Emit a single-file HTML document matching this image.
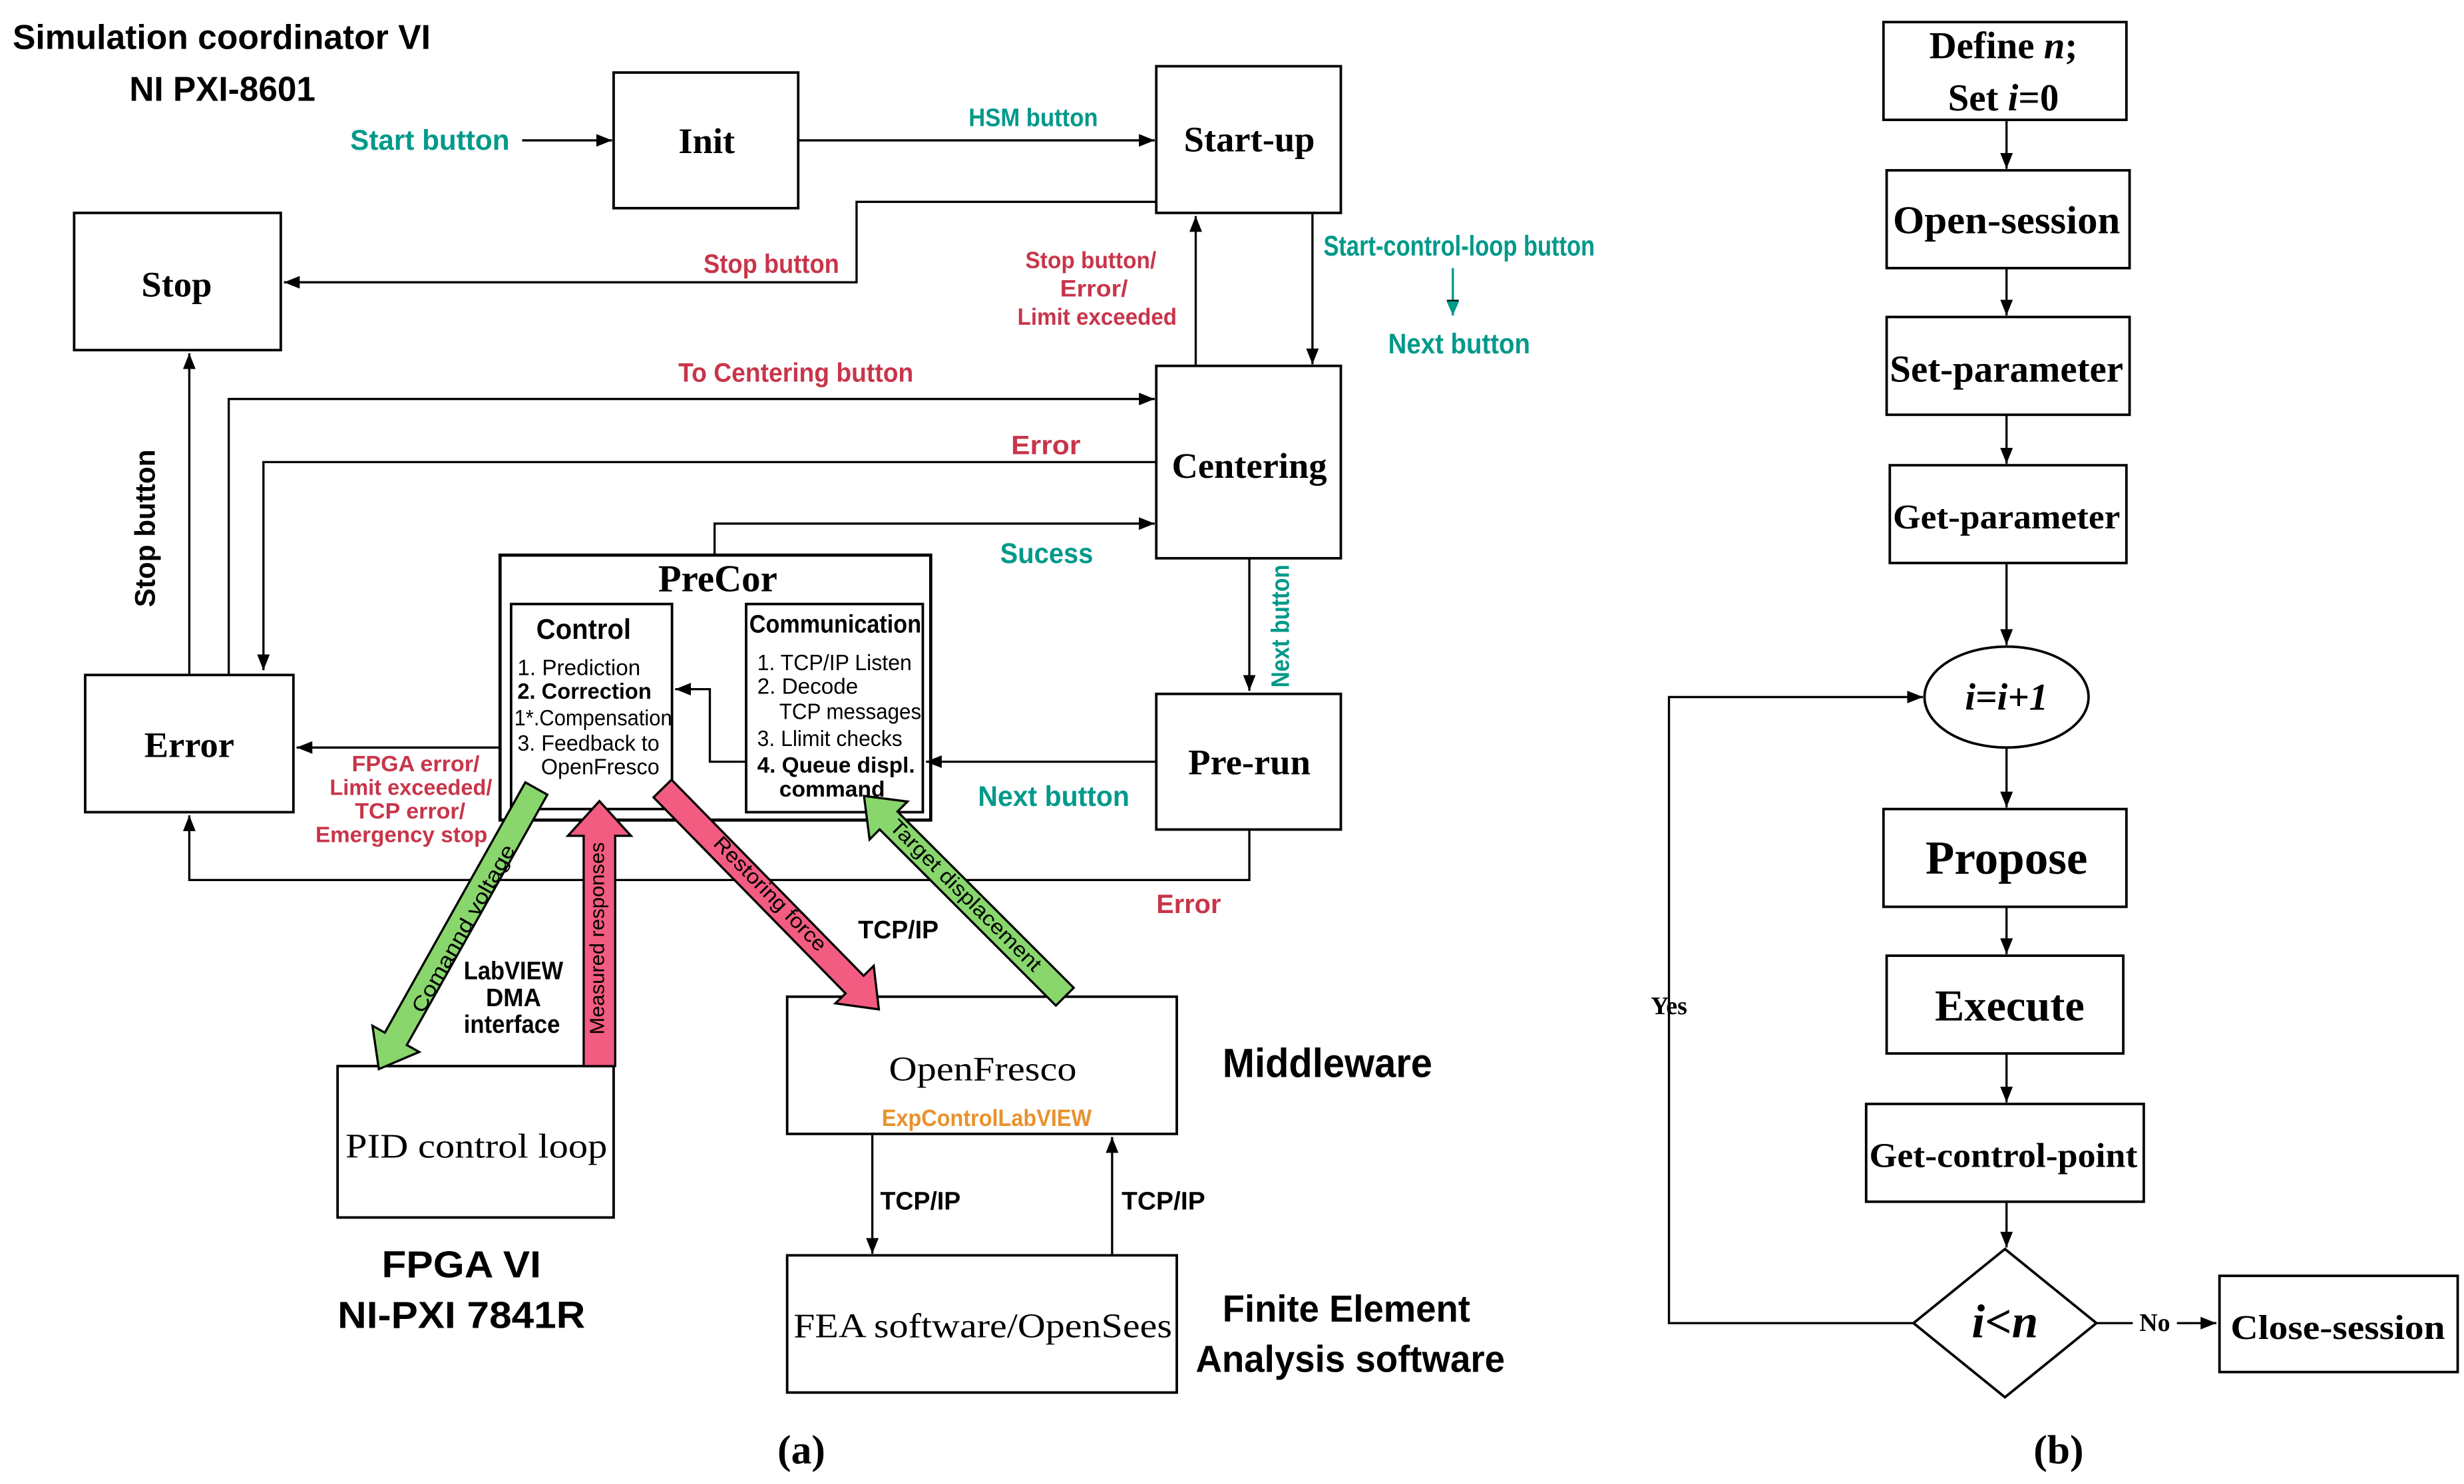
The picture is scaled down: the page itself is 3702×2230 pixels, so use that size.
<!DOCTYPE html>
<html><head><meta charset="utf-8"><style>
html,body{margin:0;padding:0;background:#fff}
svg{display:block}
.s{font-family:"Liberation Sans Narrow","Liberation Sans",sans-serif}
.b{font-weight:bold}
.sf{font-family:"Liberation Serif",serif}
.t{fill:#00998a}
.r{fill:#c8354a}
</style></head><body>
<svg width="3702" height="2230" viewBox="0 0 1562 941" preserveAspectRatio="none" xmlns="http://www.w3.org/2000/svg">
<defs>
<marker id="a" markerWidth="10" markerHeight="8" refX="10" refY="4" orient="auto" markerUnits="userSpaceOnUse"><path d="M0,0 L10,4 L0,8 Z" fill="#000"/></marker>
</defs>
<rect width="1562" height="941" fill="#fff"/>
<g fill="none" stroke="#000" stroke-width="1.6">
<rect x="389" y="46" width="117" height="86"/>
<rect x="733" y="42" width="117" height="93"/>
<rect x="47" y="135" width="131" height="87"/>
<rect x="733" y="232" width="117" height="122"/>
<rect x="54" y="428" width="132" height="87"/>
<rect x="317" y="352" width="273" height="168" stroke-width="2"/>
<rect x="324" y="383" width="102" height="130"/>
<rect x="473" y="383" width="112" height="132"/>
<rect x="733" y="440" width="117" height="86"/>
<rect x="214" y="676" width="175" height="96"/>
<rect x="499" y="632" width="247" height="87"/>
<rect x="499" y="796" width="247" height="87"/>
</g>
<g fill="none" stroke="#000" stroke-width="1.4" marker-end="url(#a)">
<path d="M331,89 H388"/>
<path d="M506,89 H732"/>
<path d="M733,128 H543 V179 H180"/>
<path d="M832,135 V231"/>
<path d="M758,232 V137"/>
<path d="M921,170 V200" stroke="#00998a"/>
<path d="M145,428 V253 H732"/>
<path d="M733,293 H167 V425"/>
<path d="M453,352 V332 H732"/>
<path d="M120,428 V224"/>
<path d="M473,483 H450 V437 H428"/>
<path d="M733,483 H587"/>
<path d="M792,354 V438"/>
<path d="M317,474 H188"/>
<path d="M792,526 V558 H120 V517"/>
<path d="M553,719 V795"/>
<path d="M705,796 V721"/>
</g>
<path d="M921,200 l-4,-9 h8 z" fill="#00998a"/>
<g stroke="#000" stroke-width="1.4">
<g transform="translate(340,500) rotate(119.3)"><polygon points="0,-8 182,-8 182,-17 204,0 182,17 182,8 0,8" fill="#88d66c"/></g>
<g transform="translate(380,676) rotate(-90)"><polygon points="0,-10 146,-10 146,-20 168,0 146,20 146,10 0,10" fill="#f25c80"/></g>
<g transform="translate(420,500) rotate(45.6)"><polygon points="0,-8 174,-8 174,-17 196,0 174,17 174,8 0,8" fill="#f25c80"/></g>
<g transform="translate(675,632) rotate(-135)"><polygon points="0,-8 158,-8 158,-17 180,0 158,17 158,8 0,8" fill="#88d66c"/></g>
</g>
<g class="s" font-size="13" text-anchor="middle">
<text transform="translate(294,589) rotate(-60.7)" dy="4" textLength="120" lengthAdjust="spacingAndGlyphs">Comannd voltage</text>
<text transform="translate(379,595) rotate(-90)" dy="4" textLength="122" lengthAdjust="spacingAndGlyphs">Measured responses</text>
<text transform="translate(488,567) rotate(45.6)" dy="4" textLength="96" lengthAdjust="spacingAndGlyphs">Restoring force</text>
<text transform="translate(612,568) rotate(45)" dy="4" textLength="130" lengthAdjust="spacingAndGlyphs">Target displacement</text>
</g>
<g class="s b" font-size="22" lengthAdjust="spacingAndGlyphs">
<text x="8" y="31" textLength="265" lengthAdjust="spacingAndGlyphs">Simulation coordinator VI</text>
<text x="82" y="64" textLength="118" lengthAdjust="spacingAndGlyphs">NI PXI-8601</text>
</g>
<g class="s b t" font-size="18">
<text x="222" y="95" textLength="101" lengthAdjust="spacingAndGlyphs">Start button</text>
<text x="614" y="80" font-size="16" textLength="82" lengthAdjust="spacingAndGlyphs">HSM button</text>
<text x="839" y="162" textLength="172" lengthAdjust="spacingAndGlyphs">Start-control-loop button</text>
<text x="880" y="224" textLength="90" lengthAdjust="spacingAndGlyphs">Next button</text>
<text x="634" y="357" textLength="59" lengthAdjust="spacingAndGlyphs">Sucess</text>
<text x="620" y="511" textLength="96" lengthAdjust="spacingAndGlyphs">Next button</text>
<text transform="translate(817,436) rotate(-90)" font-size="16" textLength="78" lengthAdjust="spacingAndGlyphs">Next button</text>
</g>
<g class="s b r" font-size="17">
<text x="446" y="173" textLength="86" lengthAdjust="spacingAndGlyphs">Stop button</text>
<text x="650" y="170" font-size="15" textLength="83" lengthAdjust="spacingAndGlyphs">Stop button/</text>
<text x="672" y="188" font-size="15" textLength="43" lengthAdjust="spacingAndGlyphs">Error/</text>
<text x="645" y="206" font-size="15" textLength="101" lengthAdjust="spacingAndGlyphs">Limit exceeded</text>
<text x="430" y="242" textLength="149" lengthAdjust="spacingAndGlyphs">To Centering button</text>
<text x="641" y="288" textLength="44" lengthAdjust="spacingAndGlyphs">Error</text>
<text x="733" y="579" textLength="41" lengthAdjust="spacingAndGlyphs">Error</text>
<text x="223" y="489" font-size="14" textLength="81" lengthAdjust="spacingAndGlyphs">FPGA error/</text>
<text x="209" y="504" font-size="14" textLength="103" lengthAdjust="spacingAndGlyphs">Limit exceeded/</text>
<text x="225" y="519" font-size="14" textLength="70" lengthAdjust="spacingAndGlyphs">TCP error/</text>
<text x="200" y="534" font-size="14" textLength="109" lengthAdjust="spacingAndGlyphs">Emergency stop</text>
</g>
<text class="s b" font-size="18" transform="translate(98,385) rotate(-90)" textLength="100" lengthAdjust="spacingAndGlyphs">Stop button</text>
<g class="sf b" font-size="23" text-anchor="middle">
<text x="448" y="97">Init</text>
<text x="792" y="96">Start-up</text>
<text x="112" y="188">Stop</text>
<text x="792" y="303">Centering</text>
<text x="120" y="480">Error</text>
<text x="792" y="491">Pre-run</text>
<text x="455" y="375" font-size="24">PreCor</text>
</g>
<g class="s" font-size="14">
<text x="340" y="405" class="b" font-size="18" textLength="60" lengthAdjust="spacingAndGlyphs">Control</text>
<text x="328" y="428" textLength="78" lengthAdjust="spacingAndGlyphs">1. Prediction</text>
<text x="328" y="443" class="b" textLength="85" lengthAdjust="spacingAndGlyphs">2. Correction</text>
<text x="326" y="460" textLength="100" lengthAdjust="spacingAndGlyphs">1*.Compensation</text>
<text x="328" y="476" textLength="90" lengthAdjust="spacingAndGlyphs">3. Feedback to</text>
<text x="343" y="491" textLength="75" lengthAdjust="spacingAndGlyphs">OpenFresco</text>
<text x="475" y="401" class="b" font-size="16" textLength="109" lengthAdjust="spacingAndGlyphs">Communication</text>
<text x="480" y="425" textLength="98" lengthAdjust="spacingAndGlyphs">1. TCP/IP Listen</text>
<text x="480" y="440" textLength="64" lengthAdjust="spacingAndGlyphs">2. Decode</text>
<text x="494" y="456" textLength="90" lengthAdjust="spacingAndGlyphs">TCP messages</text>
<text x="480" y="473" textLength="92" lengthAdjust="spacingAndGlyphs">3. Llimit checks</text>
<text x="480" y="490" class="b" textLength="100" lengthAdjust="spacingAndGlyphs">4. Queue  displ.</text>
<text x="494" y="505" class="b" textLength="67" lengthAdjust="spacingAndGlyphs">command</text>
</g>
<g class="s b" font-size="16">
<text x="544" y="595" textLength="51" lengthAdjust="spacingAndGlyphs">TCP/IP</text>
<text x="294" y="621" textLength="63" lengthAdjust="spacingAndGlyphs">LabVIEW</text>
<text x="308" y="638" textLength="35" lengthAdjust="spacingAndGlyphs">DMA</text>
<text x="294" y="655" textLength="61" lengthAdjust="spacingAndGlyphs">interface</text>
<text x="558" y="767" textLength="51" lengthAdjust="spacingAndGlyphs">TCP/IP</text>
<text x="711" y="767" textLength="53" lengthAdjust="spacingAndGlyphs">TCP/IP</text>
<text x="775" y="683" font-size="26" textLength="133" lengthAdjust="spacingAndGlyphs">Middleware</text>
<text x="242" y="810" font-size="24" textLength="101" lengthAdjust="spacingAndGlyphs">FPGA VI</text>
<text x="214" y="842" font-size="24" textLength="157" lengthAdjust="spacingAndGlyphs">NI-PXI 7841R</text>
<text x="775" y="838" font-size="24" textLength="157" lengthAdjust="spacingAndGlyphs">Finite Element</text>
<text x="758" y="870" font-size="24" textLength="196" lengthAdjust="spacingAndGlyphs">Analysis software</text>
<text x="559" y="714" font-size="15" fill="#e8922e" textLength="133" lengthAdjust="spacingAndGlyphs">ExpControlLabVIEW</text>
</g>
<g class="sf" font-size="22" text-anchor="middle">
<text x="302" y="734" textLength="166" lengthAdjust="spacingAndGlyphs">PID control loop</text>
<text x="623" y="685" textLength="119" lengthAdjust="spacingAndGlyphs">OpenFresco</text>
<text x="623" y="848" textLength="240" lengthAdjust="spacingAndGlyphs">FEA software/OpenSees</text>
<text x="508" y="928" font-size="26" font-weight="bold">(a)</text>
<text x="1305" y="928" font-size="26" font-weight="bold">(b)</text>
</g>
<g fill="none" stroke="#000" stroke-width="1.6">
<rect x="1194" y="14" width="154" height="62"/>
<rect x="1196" y="108" width="154" height="62"/>
<rect x="1196" y="201" width="154" height="62"/>
<rect x="1198" y="295" width="150" height="62"/>
<ellipse cx="1272" cy="442" rx="52" ry="32"/>
<rect x="1194" y="513" width="154" height="62"/>
<rect x="1196" y="606" width="150" height="62"/>
<rect x="1183" y="700" width="176" height="62"/>
<polygon points="1271,792 1329,839 1271,886 1213,839"/>
<rect x="1407" y="809" width="151" height="61"/>
</g>
<g fill="none" stroke="#000" stroke-width="1.4" marker-end="url(#a)">
<path d="M1272,76 V107"/>
<path d="M1272,170 V200"/>
<path d="M1272,263 V294"/>
<path d="M1272,357 V409"/>
<path d="M1272,474 V512"/>
<path d="M1272,575 V605"/>
<path d="M1272,668 V699"/>
<path d="M1272,762 V791"/>
<path d="M1213,839 H1058 V442 H1219"/>
<path d="M1329,839 H1405"/>
</g>
<rect x="1352" y="830" width="28" height="16" fill="#fff"/>
<g class="sf b" text-anchor="middle" font-size="24">
<text x="1270" y="37">Define <tspan font-style="italic">n</tspan>;</text>
<text x="1270" y="70">Set <tspan font-style="italic">i</tspan>=0</text>
<text x="1272" y="148" font-size="25" textLength="144" lengthAdjust="spacingAndGlyphs">Open-session</text>
<text x="1272" y="242" textLength="148" lengthAdjust="spacingAndGlyphs">Set-parameter</text>
<text x="1272" y="335" font-size="22" textLength="144" lengthAdjust="spacingAndGlyphs">Get-parameter</text>
<text x="1272" y="450" font-style="italic" font-size="24">i=i+1</text>
<text x="1272" y="554" font-size="30">Propose</text>
<text x="1274" y="647" font-size="28">Execute</text>
<text x="1270" y="740" font-size="22" textLength="170" lengthAdjust="spacingAndGlyphs">Get-control-point</text>
<text x="1271" y="848" font-style="italic" font-size="30">i&lt;n</text>
<text x="1482" y="849" font-size="22" textLength="136" lengthAdjust="spacingAndGlyphs">Close-session</text>
<text x="1058" y="643" font-size="16">Yes</text>
<text x="1366" y="844" font-size="16">No</text>
</g>
</svg>
</body></html>
